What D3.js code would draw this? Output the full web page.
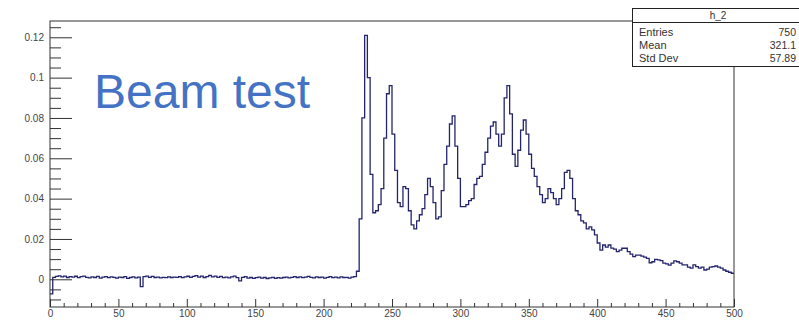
<!DOCTYPE html>
<html>
<head>
<meta charset="utf-8">
<script src="https://cdn.jsdelivr.net/npm/d3@7"></script>
<style>
  body { margin: 0; background: #fff; }
  svg text { font-family: "Liberation Sans", Arial, sans-serif; }
</style>
</head>
<body>
<div id="chart"></div>
<script>
// histogram h_2, bins of width 2 from 0 to 500
var binWidth = 2;

// bins 0 .. 222 (flat pedestal)
var baseline = [
  -0.0072, 0.0010, 0.0014, 0.0017, 0.0012, 0.0016, 0.0009, 0.0013, 0.0011, 0.0015,
  0.0008, 0.0013, 0.0016, 0.0010, 0.0007, 0.0012, 0.0009, 0.0014, 0.0006, 0.0011,
  0.0013, 0.0008, 0.0012, 0.0010, 0.0006, 0.0011, 0.0009, 0.0013, 0.0005, 0.0009,
  0.0012, 0.0007, 0.0011, -0.0036, 0.0013, 0.0016, 0.0010, 0.0014, 0.0009, 0.0011,
  0.0007, 0.0010, 0.0008, 0.0012, 0.0009, 0.0011, 0.0010, 0.0013, 0.0008, 0.0012,
  0.0015, 0.0010, 0.0014, 0.0018, 0.0011, 0.0016, 0.0009, 0.0013, 0.0019, 0.0012,
  0.0016, 0.0010, 0.0014, 0.0008, 0.0011, 0.0007, 0.0012, 0.0016, 0.0008, -0.0008,
  0.0010, 0.0013, 0.0006, 0.0009, 0.0005, 0.0008, 0.0011, 0.0006, 0.0009, 0.0004,
  0.0007, 0.0010, 0.0005, 0.0008, 0.0006, 0.0009, 0.0011, 0.0007, 0.0010, 0.0013,
  0.0009, 0.0012, 0.0008, 0.0011, 0.0014, 0.0010, 0.0007, 0.0012, 0.0009, 0.0011,
  0.0006, 0.0010, 0.0013, 0.0008, 0.0011, 0.0007, 0.0012, 0.0009, 0.0010, 0.0006,
  0.0011, 0.0013
];

// bins 224 .. 392 (peaks)
var peaks = [
  0.004, 0.030, 0.080, 0.121, 0.100, 0.052, 0.033, 0.034, 0.037, 0.045,
  0.070, 0.092, 0.096, 0.072, 0.054, 0.038, 0.036, 0.046, 0.045, 0.034,
  0.027, 0.025, 0.029, 0.032, 0.035, 0.042, 0.050, 0.046, 0.038, 0.030,
  0.031, 0.044, 0.057, 0.066, 0.077, 0.081, 0.066, 0.050, 0.036, 0.036,
  0.037, 0.039, 0.040, 0.047, 0.050, 0.051, 0.057, 0.063, 0.070, 0.076,
  0.078, 0.072, 0.066, 0.072, 0.090, 0.096, 0.082, 0.062, 0.056, 0.064,
  0.074, 0.079, 0.072, 0.062, 0.055, 0.051, 0.046, 0.042, 0.038, 0.040,
  0.045, 0.043, 0.040, 0.037, 0.040, 0.045, 0.053, 0.054, 0.050, 0.040,
  0.034, 0.032, 0.029, 0.028, 0.025
];

// bins 394 .. 498 (tail)
var tail = [
  0.0260, 0.0245, 0.0220, 0.0180, 0.0145, 0.0170, 0.0160, 0.0170, 0.0155, 0.0150,
  0.0137, 0.0145, 0.0154, 0.0154, 0.0137, 0.0125, 0.0112, 0.0120, 0.0120, 0.0115,
  0.0110, 0.0104, 0.0082, 0.0087, 0.0099, 0.0096, 0.0093, 0.0080, 0.0076, 0.0070,
  0.0080, 0.0091, 0.0087, 0.0080, 0.0071, 0.0071, 0.0060, 0.0055, 0.0071, 0.0063,
  0.0055, 0.0060, 0.0046, 0.0050, 0.0060, 0.0063, 0.0066, 0.0060, 0.0055, 0.0046,
  0.0040, 0.0035, 0.0030
];

var xTicks = [0, 50, 100, 150, 200, 250, 300, 350, 400, 450, 500];
var yTicks = [0, 0.02, 0.04, 0.06, 0.08, 0.1, 0.12];
var yTickLabels = ["0", "0.02", "0.04", "0.06", "0.08", "0.1", "0.12"];

var statsTitle = "h_2";
var statsNames = ["Entries", "Mean", "Std Dev"];
var statsValues = ["750", "321.1", "57.89"];

var width = 799, height = 320;
var frame = {left: 50, right: 734, top: 21, bottom: 307};

var svg = d3.select("#chart").append("svg")
    .attr("width", width)
    .attr("height", height);

var x = d3.scaleLinear().domain([0, 500]).range([frame.left, frame.right]);
var y = d3.scaleLinear().domain([-0.01374, 0.12808]).range([frame.bottom, frame.top]);

// all bins together
var counts = baseline.concat(peaks, tail);
var points = counts.map(function(v, i) { return [i * binWidth, v]; });
points.push([500, counts[counts.length - 1]]);

// minor ticks
var xMinor = d3.range(0, 501, 10).filter(function(d) { return d % 50 !== 0; });
var yMinor = d3.range(-0.010, 0.1251, 0.005).filter(function(d) {
  return Math.abs(Math.round(d * 1000) % 20) !== 0;
});

svg.append("g")
    .attr("class", "axis x minor")
    .attr("transform", "translate(0," + frame.bottom + ")")
    .call(d3.axisBottom(x).tickValues(xMinor).tickSize(-4).tickFormat(""))
    .call(function(g) { g.select(".domain").remove(); });

svg.append("g")
    .attr("class", "axis x")
    .attr("transform", "translate(0," + frame.bottom + ")")
    .call(d3.axisBottom(x).tickValues(xTicks).tickSize(-8).tickPadding(3))
    .call(function(g) { g.select(".domain").remove(); });

svg.append("g")
    .attr("class", "axis y minor")
    .attr("transform", "translate(" + frame.left + ",0)")
    .call(d3.axisLeft(y).tickValues(yMinor).tickSize(-11).tickFormat(""))
    .call(function(g) { g.select(".domain").remove(); });

svg.append("g")
    .attr("class", "axis y")
    .attr("transform", "translate(" + frame.left + ",0)")
    .call(d3.axisLeft(y).tickValues(yTicks).tickSize(-22).tickPadding(6)
            .tickFormat(function(d, i) { return yTickLabels[i]; }))
    .call(function(g) { g.select(".domain").remove(); });

svg.selectAll(".axis line").attr("stroke", "#333");
svg.selectAll(".axis text")
    .attr("fill", "#444")
    .style("font-size", "10px");

// histogram outline
var line = d3.line()
    .x(function(d) { return x(d[0]); })
    .y(function(d) { return y(d[1]); })
    .curve(d3.curveStepAfter);

svg.append("path")
    .datum(points)
    .attr("fill", "none")
    .attr("stroke", "#24246e")
    .attr("stroke-width", 1.3)
    .attr("d", line);

// frame
svg.append("rect")
    .attr("x", frame.left)
    .attr("y", frame.top)
    .attr("width", frame.right - frame.left)
    .attr("height", frame.bottom - frame.top)
    .attr("fill", "none")
    .attr("stroke", "#333")
    .attr("stroke-width", 1);

// stats box
var stats = svg.append("g").attr("class", "stats");
stats.append("rect")
    .attr("x", 632.5).attr("y", 8.5)
    .attr("width", 172).attr("height", 58)
    .attr("fill", "#fff")
    .attr("stroke", "#222");
stats.append("line")
    .attr("x1", 632.5).attr("x2", 805)
    .attr("y1", 22.5).attr("y2", 22.5)
    .attr("stroke", "#222");
stats.append("text")
    .attr("x", 718).attr("y", 19)
    .attr("text-anchor", "middle")
    .attr("fill", "#333")
    .style("font-size", "10px")
    .text(statsTitle);
stats.selectAll("text.name")
    .data(statsNames)
  .enter().append("text")
    .attr("class", "name")
    .attr("x", 639)
    .attr("y", function(d, i) { return 35.5 + i * 13; })
    .attr("fill", "#333")
    .style("font-size", "11px")
    .text(function(d) { return d; });
stats.selectAll("text.value")
    .data(statsValues)
  .enter().append("text")
    .attr("class", "value")
    .attr("x", 796)
    .attr("y", function(d, i) { return 35.5 + i * 13; })
    .attr("text-anchor", "end")
    .attr("fill", "#333")
    .style("font-size", "10.5px")
    .text(function(d) { return d; });

// annotation
svg.append("text")
    .attr("x", 94)
    .attr("y", 108)
    .attr("fill", "#4472c4")
    .style("font-size", "48px")
    .text("Beam test");
</script>
</body>
</html>
